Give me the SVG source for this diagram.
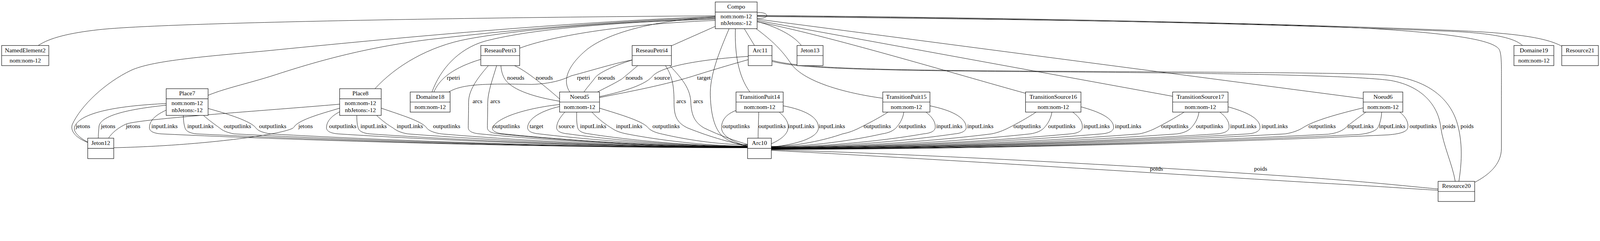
<svg xmlns="http://www.w3.org/2000/svg" width="4852" height="617" viewBox="0 0 4852 617">
<style>
.box{fill:#fff;stroke:#111;stroke-width:1.4}
.sep{stroke:#111;stroke-width:1.4}
.t{font-family:"Liberation Serif","Times New Roman",serif;font-size:18.4px;fill:#000}
.n{text-anchor:middle}
#edges path{fill:none;stroke:#000;stroke-width:1.1}
</style>
<rect width="4852" height="617" fill="#fff"/>
<g id="diagram" transform="scale(0.844188)">
<g id="edges">
<path d="M2169,48 C1500,52 500,68 300,90 C210,100 150,115 116,138"/>
<path d="M2169,50 C1700,68 1200,115 800,155 C600,173 460,185 398,213 C320,250 245,320 219,378 C212,400 235,420 266,432"/>
<path d="M2169,53 C1900,62 1600,85 1300,120 C1100,145 950,190 850,222 C760,252 690,265 631,289"/>
<path d="M2169,56 C1900,65 1600,85 1420,118 C1300,140 1200,200 1137,269"/>
<path d="M2169,58 C1900,66 1620,85 1470,125 C1390,148 1335,210 1310,279"/>
<path d="M2169,62 C1950,70 1700,100 1576,146"/>
<path d="M2169,52 C2000,60 1850,95 1780,150 C1720,200 1705,245 1728,279"/>
<path d="M2169,80 L2036,139"/>
<path d="M2257,87 L2288,138"/>
<path d="M2230,87 C2228,160 2238,230 2274,279"/>
<path d="M2211,87 C2180,160 2152,230 2154,290 C2156,350 2168,400 2200,420 C2222,433 2245,440 2267,444"/>
<path d="M2296,65 C2350,80 2405,105 2430,138"/>
<path d="M2293,87 C2340,122 2372,152 2400,195 C2440,248 2560,282 2677,298"/>
<path d="M2296,66 C2500,105 2900,225 3110,283"/>
<path d="M2296,62 L3556,292"/>
<path d="M2296,58 L4134,299"/>
<path d="M2296,48 C3000,55 3800,70 4400,95 C4530,101 4592,115 4617,138"/>
<path d="M2296,47 C3000,53 3800,68 4400,92 C4600,100 4690,115 4736,140"/>
<path d="M2296,50 C3000,58 3800,68 4150,86 C4380,100 4520,118 4545,148 C4555,162 4553,200 4553,300 L4553,450 C4553,500 4512,532 4472,553"/>
<path d="M2296,38 C2335,36 2335,58 2296,56"/>
<path d="M1316,279 C1330,245 1365,208 1458,180"/>
<path d="M1361,279 C1400,255 1470,253 1612,256 C1670,254 1705,243 1732,230 C1800,212 1870,190 1917,182"/>
<path d="M1481,199 C1445,240 1421,275 1421,310 C1421,345 1420,370 1420,388 C1421,398 1432,404 1455,406 C1658,426 1983,446 2267,446"/>
<path d="M1506,199 C1494,240 1479,280 1479,312 C1479,345 1478,370 1478,388 C1479,398 1490,404 1513,406 C1702,426 2003,445.5 2267,445.5"/>
<path d="M1519,199 C1520,215 1524,228 1531,240 C1555,276 1630,296 1697,307"/>
<path d="M1560,199 C1590,212 1640,250 1697,300"/>
<path d="M1917,182 C1860,200 1812,222 1803,238 C1790,255 1778,268 1771,279"/>
<path d="M1934,199 C1912,218 1895,232 1885,240 C1855,258 1828,270 1812,279"/>
<path d="M2018,199 C2040,232 2044,265 2044,310 C2044,352 2052,372 2085,388 C2160,418 2225,435 2267,441"/>
<path d="M2031,199 C2070,240 2094,270 2095,312 C2097,352 2108,372 2135,388 C2185,412 2232,428 2267,438"/>
<path d="M2269,171 C2150,178 2005,198 1978,232 C1952,262 1870,282 1818,293"/>
<path d="M2269,181 C2190,203 2120,225 2098,232 C2000,262 1880,283 1818,296"/>
<path d="M2341,183 C2420,205 2600,213 3200,216 C3700,219 4100,221 4196,227 C4330,238 4402,300 4422,385 C4436,442 4432,500 4424,550"/>
<path d="M2341,186 C2420,207 2600,214 3200,218 C3700,222 4100,228 4217,244 C4318,262 4362,325 4369,385 C4376,440 4405,500 4413,550"/>
<path d="M504,314 C420,318 245,330 226,385 C221,402 245,420 266,431"/>
<path d="M504,319 C420,328 302,345 300,385 C299,400 298,410 298,419"/>
<path d="M504,334 C478,346 453,362 453,388 C454,398 465,404 488,406 C933,427 1644,448 2267,448"/>
<path d="M556,350 C556,366 558,378 561,388 C564,398 576,404 596,406 C1014,427 1682,448 2267,448"/>
<path d="M617,350 C635,366 652,378 666,388 C675,396 688,402 710,406 C1099,427 1722,447.5 2267,447.5"/>
<path d="M631,329 C690,345 762,368 776,388 C783,397 796,402 820,406 C1182,427 1761,447.5 2267,447.5"/>
<path d="M1030,316 C800,336 430,360 383,376 C360,386 340,402 329,419"/>
<path d="M1030,328 C985,342 905,362 891,386 C878,405 620,442 345,448"/>
<path d="M1030,339 C1005,352 990,368 990,388 C991,398 1002,404 1025,406 C1335,426 1832,447 2267,447"/>
<path d="M1082,350 C1082,366 1083,378 1086,388 C1089,398 1101,404 1121,406 C1407,426 1866,447 2267,447"/>
<path d="M1142,350 C1160,367 1178,380 1192,388 C1202,396 1214,402 1236,406 C1494,426 1906,446.5 2267,446.5"/>
<path d="M1156,328 C1220,350 1280,368 1294,388 C1300,396 1313,402 1338,406 C1570,426 1942,446.5 2267,446.5"/>
<path d="M1697,317 C1620,325 1510,350 1493,388 C1493,398 1505,404 1528,406 C1713,425 2008,445 2267,445"/>
<path d="M1697,323 C1645,335 1600,358 1600,388 C1601,398 1612,404 1635,406 C1793,425 2046,444.5 2267,444.5"/>
<path d="M1713,340 C1698,356 1688,372 1688,388 C1689,398 1700,404 1723,406 C1859,425 2077,444 2267,444"/>
<path d="M1749,340 C1748,360 1749,376 1752,388 C1755,398 1767,404 1787,406 C1907,425 2099,443.5 2267,443.5"/>
<path d="M1795,340 C1815,362 1840,380 1857,390 C1867,397 1880,402 1900,406 C1992,424 2139,443 2267,443"/>
<path d="M1818,328 C1890,350 1950,368 1966,388 C1974,397 1990,403 2010,407 C2074,422 2177,439 2267,439"/>
<path d="M2232,335 C2205,345 2188,362 2188,388 C2188,412 2228,434 2267,443"/>
<path d="M2301,340 C2300,370 2299,395 2299,419"/>
<path d="M2363,340 C2380,355 2392,370 2390,388 C2388,410 2362,426 2339,436"/>
<path d="M2375,321 C2440,333 2483,355 2482,388 C2480,422 2400,440 2339,446"/>
<path d="M2693,340 C2665,358 2630,376 2606,388 C2590,396 2575,402 2555,406 C2501,425 2415,444 2339,444"/>
<path d="M2741,340 C2738,360 2728,376 2717,388 C2708,397 2695,403 2675,406 C2591,425 2457,445 2339,445"/>
<path d="M2808,340 C2826,354 2838,370 2836,388 C2834,398 2822,404 2800,406 C2685,426 2500,446 2339,446"/>
<path d="M2820,321 C2880,333 2931,355 2930,388 C2928,398 2916,404 2895,406 C2756,426 2534,447 2339,447"/>
<path d="M3142,340 C3115,358 3082,376 3058,388 C3042,396 3027,402 3007,406 C2840,427 2573,447.5 2339,447.5"/>
<path d="M3190,340 C3187,360 3177,376 3166,388 C3157,397 3144,403 3124,406 C2928,427 2614,448 2339,448"/>
<path d="M3253,340 C3272,354 3284,370 3282,388 C3280,398 3268,404 3246,406 C3019,427 2656,448.5 2339,448.5"/>
<path d="M3278,324 C3330,338 3379,358 3377,388 C3375,398 3363,404 3341,406 C3091,427 2690,449 2339,449"/>
<path d="M3591,340 C3562,358 3530,376 3506,388 C3490,396 3475,402 3455,406 C3176,428 2730,449.5 2339,449.5"/>
<path d="M3636,340 C3633,360 3623,376 3612,388 C3603,397 3590,403 3570,406 C3262,428 2770,450 2339,450"/>
<path d="M3699,340 C3718,354 3729,370 3727,388 C3725,398 3713,404 3691,406 C3353,428 2812,450.5 2339,450.5"/>
<path d="M3724,324 C3775,338 3823,358 3821,388 C3819,398 3807,404 3785,406 C3424,428 2845,451 2339,451"/>
<path d="M4134,327 C4060,345 3985,365 3950,388 C3935,397 3920,402 3898,406 C3508,428 2885,451.5 2339,451.5"/>
<path d="M4142,340 C4118,358 4095,374 4080,388 C4068,398 4052,404 4028,407 C3606,429 2930,452 2339,452"/>
<path d="M4190,340 C4189,360 4184,376 4178,388 C4170,398 4150,405 4120,408 C3675,430 2962,452.5 2339,452.5"/>
<path d="M4245,340 C4262,354 4272,370 4269,388 C4266,400 4245,406 4210,409 C3742,431 2994,453 2339,453"/>
<path d="M2339,454 C2800,468 3500,505 4000,541 C4200,556 4300,568 4361,573"/>
<path d="M2339,456 C2800,480 3500,525 4000,555 C4200,566 4300,574 4361,577"/>
</g>
<g id="edge-labels" class="t">
<text x="1355" y="241.5">rpetri</text>
<text x="1538" y="241.5">noeuds</text>
<text x="1624.5" y="241.5">noeuds</text>
<text x="1749.5" y="241.5">rpetri</text>
<text x="1813" y="241.5">noeuds</text>
<text x="1897" y="241.5">noeuds</text>
<text x="1984" y="241.5">source</text>
<text x="2114" y="241.5">target</text>
<text x="1433" y="312.5">arcs</text>
<text x="1487" y="312.5">arcs</text>
<text x="2051" y="312.5">arcs</text>
<text x="2102.5" y="312.5">arcs</text>
<text x="229.6" y="388.5">jetons</text>
<text x="306" y="388.5">jetons</text>
<text x="381.6" y="388.5">jetons</text>
<text x="459" y="388.5">inputLinks</text>
<text x="568" y="388.5">inputLinks</text>
<text x="678.6" y="388.5">outputlinks</text>
<text x="785.7" y="388.5">outputlinks</text>
<text x="904.6" y="388.5">jetons</text>
<text x="998" y="388.5">outputlinks</text>
<text x="1093" y="388.5">inputLinks</text>
<text x="1203" y="388.5">inputLinks</text>
<text x="1313" y="388.5">outputlinks</text>
<text x="1494" y="388.5">outputlinks</text>
<text x="1606" y="388.5">target</text>
<text x="1694" y="388.5">source</text>
<text x="1759" y="388.5">inputLinks</text>
<text x="1868" y="388.5">inputLinks</text>
<text x="1978.6" y="388.5">outputlinks</text>
<text x="2191" y="388.5">outputlinks</text>
<text x="2300" y="388.5">outputlinks</text>
<text x="2390" y="388.5">inputLinks</text>
<text x="2483" y="388.5">inputLinks</text>
<text x="2619" y="388.5">outputlinks</text>
<text x="2725.5" y="388.5">outputlinks</text>
<text x="2839" y="388.5">inputLinks</text>
<text x="2933" y="388.5">inputLinks</text>
<text x="3073.5" y="388.5">outputlinks</text>
<text x="3178.6" y="388.5">outputlinks</text>
<text x="3285.7" y="388.5">inputLinks</text>
<text x="3381" y="388.5">inputLinks</text>
<text x="3521" y="388.5">outputlinks</text>
<text x="3626.5" y="388.5">outputlinks</text>
<text x="3730.6" y="388.5">inputLinks</text>
<text x="3825.5" y="388.5">inputLinks</text>
<text x="3968" y="388.5">outputlinks</text>
<text x="4086" y="388.5">inputLinks</text>
<text x="4182" y="388.5">inputLinks</text>
<text x="4274.5" y="388.5">outputlinks</text>
<text x="4374" y="388.5">poids</text>
<text x="4429" y="388.5">poids</text>
<text x="3487" y="518">poids</text>
<text x="3803" y="518">poids</text>
</g>
<g id="Compo"><rect class="box" x="2169" y="6" width="127" height="81"/><line class="sep" x1="2169" y1="36.6" x2="2296" y2="36.6"/><text class="t n" x="2232.5" y="26.3">Compo</text><text class="t n" x="2232.5" y="56.2">nom:nom-12</text><text class="t n" x="2232.5" y="76.3">nbJetons:-12</text></g>
<g id="NamedElement2"><rect class="box" x="5" y="138" width="143" height="61"/><line class="sep" x1="5" y1="168.5" x2="148" y2="168.5"/><text class="t n" x="76.5" y="158.5">NamedElement2</text><text class="t n" x="76.5" y="189">nom:nom-12</text></g>
<g id="ReseauPetri3"><rect class="box" x="1458" y="138" width="118" height="61"/><line class="sep" x1="1458" y1="168.5" x2="1576" y2="168.5"/><text class="t n" x="1517" y="158.5">ReseauPetri3</text></g>
<g id="ReseauPetri4"><rect class="box" x="1917" y="138" width="119" height="61"/><line class="sep" x1="1917" y1="168.5" x2="2036" y2="168.5"/><text class="t n" x="1976.5" y="158.5">ReseauPetri4</text></g>
<g id="Arc11"><rect class="box" x="2269" y="138" width="72" height="61"/><line class="sep" x1="2269" y1="168.5" x2="2341" y2="168.5"/><text class="t n" x="2305" y="158.5">Arc11</text></g>
<g id="Jeton13"><rect class="box" x="2417" y="138" width="79" height="61"/><line class="sep" x1="2417" y1="168.5" x2="2496" y2="168.5"/><text class="t n" x="2456.5" y="158.5">Jeton13</text></g>
<g id="Domaine19"><rect class="box" x="4591" y="138" width="121" height="61"/><line class="sep" x1="4591" y1="168.5" x2="4712" y2="168.5"/><text class="t n" x="4651.5" y="158.5">Domaine19</text><text class="t n" x="4651.5" y="189">nom:nom-12</text></g>
<g id="Resource21"><rect class="box" x="4736" y="138" width="111" height="61"/><line class="sep" x1="4736" y1="168.5" x2="4847" y2="168.5"/><text class="t n" x="4791.5" y="158.5">Resource21</text></g>
<g id="Place7"><rect class="box" x="504" y="269" width="127" height="81"/><line class="sep" x1="504" y1="299.5" x2="631" y2="299.5"/><text class="t n" x="567.5" y="289">Place7</text><text class="t n" x="567.5" y="319">nom:nom-12</text><text class="t n" x="567.5" y="339.6">nbJetons:-12</text></g>
<g id="Place8"><rect class="box" x="1030" y="269" width="126" height="81"/><line class="sep" x1="1030" y1="299.5" x2="1156" y2="299.5"/><text class="t n" x="1093" y="289">Place8</text><text class="t n" x="1093" y="319">nom:nom-12</text><text class="t n" x="1093" y="339.6">nbJetons:-12</text></g>
<g id="Domaine18"><rect class="box" x="1244" y="279" width="121" height="61"/><line class="sep" x1="1244" y1="309.5" x2="1365" y2="309.5"/><text class="t n" x="1304.5" y="299.5">Domaine18</text><text class="t n" x="1304.5" y="330">nom:nom-12</text></g>
<g id="Noeud5"><rect class="box" x="1697" y="279" width="121" height="61"/><line class="sep" x1="1697" y1="309.5" x2="1818" y2="309.5"/><text class="t n" x="1757.5" y="299.5">Noeud5</text><text class="t n" x="1757.5" y="330">nom:nom-12</text></g>
<g id="TransitionPuit14"><rect class="box" x="2232" y="279" width="143" height="61"/><line class="sep" x1="2232" y1="309.5" x2="2375" y2="309.5"/><text class="t n" x="2303.5" y="299.5">TransitionPuit14</text><text class="t n" x="2303.5" y="330">nom:nom-12</text></g>
<g id="TransitionPuit15"><rect class="box" x="2677" y="279" width="143" height="61"/><line class="sep" x1="2677" y1="309.5" x2="2820" y2="309.5"/><text class="t n" x="2748.5" y="299.5">TransitionPuit15</text><text class="t n" x="2748.5" y="330">nom:nom-12</text></g>
<g id="TransitionSource16"><rect class="box" x="3110" y="279" width="168" height="61"/><line class="sep" x1="3110" y1="309.5" x2="3278" y2="309.5"/><text class="t n" x="3194" y="299.5">TransitionSource16</text><text class="t n" x="3194" y="330">nom:nom-12</text></g>
<g id="TransitionSource17"><rect class="box" x="3556" y="279" width="168" height="61"/><line class="sep" x1="3556" y1="309.5" x2="3724" y2="309.5"/><text class="t n" x="3640" y="299.5">TransitionSource17</text><text class="t n" x="3640" y="330">nom:nom-12</text></g>
<g id="Noeud6"><rect class="box" x="4134" y="279" width="120" height="61"/><line class="sep" x1="4134" y1="309.5" x2="4254" y2="309.5"/><text class="t n" x="4194" y="299.5">Noeud6</text><text class="t n" x="4194" y="330">nom:nom-12</text></g>
<g id="Jeton12"><rect class="box" x="266" y="419" width="79" height="62"/><line class="sep" x1="266" y1="450" x2="345" y2="450"/><text class="t n" x="305.5" y="439.5">Jeton12</text></g>
<g id="Arc10"><rect class="box" x="2267" y="419" width="72" height="62"/><line class="sep" x1="2267" y1="450" x2="2339" y2="450"/><text class="t n" x="2303" y="439.5">Arc10</text></g>
<g id="Resource20"><rect class="box" x="4361" y="550" width="111" height="61"/><line class="sep" x1="4361" y1="580.7" x2="4472" y2="580.7"/><text class="t n" x="4416.5" y="570">Resource20</text></g>
</g>
</svg>
